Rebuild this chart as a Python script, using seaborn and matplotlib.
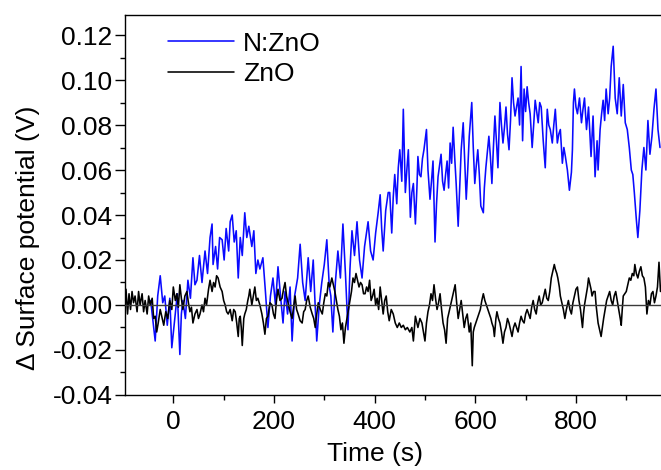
import numpy as np
import pandas as pd
import matplotlib
matplotlib.use("Agg")
import matplotlib.pyplot as plt
from matplotlib.ticker import MultipleLocator
import seaborn as sns

# values (time in s, potential change in V)
nzno_time = [-45, -40, -36, -31, -26, -21, -17, -12, -7, -3, 3, 8, 13, 16, 19, 24, 29, 34, 39, 43,
             47, 52, 57, 63, 68, 73, 77, 79, 84, 88, 92, 97, 101, 105, 110, 113, 117, 121, 125, 129,
             133, 137, 142, 146, 150, 156, 160, 164, 168, 172, 178, 183, 188, 193, 198, 203, 208, 213, 218, 222,
             227, 232, 236, 241, 247, 252, 257, 262, 268, 273, 278, 281, 285, 290, 295, 300, 305, 310, 313, 317,
             322, 327, 332, 337, 342, 347, 351, 355, 360, 365, 370, 375, 380, 387, 392, 397, 402, 407, 411, 414,
             417, 422, 427, 430, 434, 437, 440, 444, 447, 450, 454, 457, 461, 464, 467, 471, 474, 477, 481, 484,
             486, 489, 492, 495, 498, 503, 506, 510, 513, 516, 520, 523, 526, 532, 535, 538, 541, 544, 547, 550,
             553, 556, 559, 562, 566, 569, 572, 576, 579, 582, 585, 588, 593, 596, 599, 602, 605, 608, 611, 616,
             618, 621, 624, 627, 630, 633, 636, 639, 642, 645, 649, 652, 655, 658, 661, 664, 667, 670, 673, 676,
             679, 682, 685, 688, 691, 694, 697, 700, 703, 706, 709, 713, 716, 719, 722, 725, 728, 731, 735, 739,
             743, 746, 749, 753, 756, 759, 763, 766, 769, 773, 776, 779, 783, 787, 791, 793, 795, 797, 800, 803,
             807, 811, 814, 817, 821, 825, 830, 834, 838, 842, 844, 848, 851, 854, 857, 860, 864, 867, 870, 874,
             878, 882, 886, 890, 894, 898, 902, 906, 910, 913, 916, 920, 923, 927, 931, 935, 939, 943, 947, 951,
             955, 959, 963, 967]
nzno_value = [0.002, -0.008, -0.016, 0.004, 0.013, 0.001, 0.004, -0.009, 0.003, -0.019, -0.006, 0.005, -0.022, -0.004, 0.002, -0.006, 0.011, 0.003, 0.021, 0.009,
              0.011, 0.022, 0.010, 0.024, 0.014, 0.030, 0.036, 0.018, 0.026, 0.016, 0.030, 0.029, 0.020, 0.034, 0.024, 0.037, 0.040, 0.028, 0.033, 0.012,
              0.030, 0.022, 0.041, 0.030, 0.035, 0.026, 0.033, 0.014, 0.020, 0.016, 0.021, 0.006, -0.010, 0.004, 0.012, 0.000, 0.017, 0.004, -0.008, 0.006,
              -0.004, 0.008, -0.016, 0.004, 0.012, 0.027, 0.010, 0.002, 0.021, 0.006, 0.020, 0.004, -0.016, 0.000, 0.010, 0.018, 0.029, 0.008, 0.004, -0.012,
              0.010, 0.024, 0.012, 0.036, 0.014, -0.011, 0.016, 0.033, 0.022, 0.037, 0.020, 0.012, 0.026, 0.037, 0.024, 0.020, 0.032, 0.041, 0.049, 0.034,
              0.024, 0.042, 0.050, 0.050, 0.032, 0.048, 0.058, 0.045, 0.061, 0.069, 0.055, 0.087, 0.050, 0.060, 0.069, 0.039, 0.050, 0.054, 0.036, 0.052,
              0.066, 0.058, 0.057, 0.065, 0.069, 0.078, 0.060, 0.047, 0.055, 0.064, 0.028, 0.045, 0.057, 0.067, 0.055, 0.051, 0.058, 0.064, 0.052, 0.072,
              0.063, 0.079, 0.066, 0.054, 0.035, 0.052, 0.069, 0.081, 0.064, 0.047, 0.060, 0.075, 0.090, 0.070, 0.054, 0.062, 0.069, 0.058, 0.044, 0.041,
              0.052, 0.061, 0.068, 0.075, 0.066, 0.054, 0.070, 0.084, 0.073, 0.061, 0.090, 0.080, 0.072, 0.079, 0.088, 0.076, 0.069, 0.082, 0.101, 0.090,
              0.084, 0.088, 0.092, 0.080, 0.106, 0.073, 0.096, 0.086, 0.097, 0.090, 0.085, 0.070, 0.080, 0.091, 0.086, 0.081, 0.090, 0.088, 0.073, 0.061,
              0.087, 0.080, 0.078, 0.072, 0.080, 0.087, 0.072, 0.076, 0.078, 0.063, 0.070, 0.066, 0.060, 0.051, 0.059, 0.069, 0.090, 0.096, 0.088, 0.085,
              0.092, 0.081, 0.087, 0.092, 0.078, 0.088, 0.066, 0.084, 0.057, 0.073, 0.060, 0.078, 0.085, 0.091, 0.082, 0.096, 0.085, 0.092, 0.106, 0.115,
              0.092, 0.085, 0.101, 0.084, 0.098, 0.081, 0.078, 0.070, 0.060, 0.058, 0.050, 0.038, 0.030, 0.042, 0.060, 0.070, 0.060, 0.082, 0.067, 0.075,
              0.087, 0.096, 0.078, 0.070]

zno_time = [-94, -91, -88, -85, -82, -79, -76, -72, -69, -66, -62, -59, -56, -52, -49, -46, -42, -39, -36, -33,
            -30, -26, -22, -19, -15, -11, -7, -3, 0, 4, 7, 10, 13, 16, 19, 23, 27, 30, 33, 36,
            39, 43, 47, 50, 53, 57, 60, 63, 66, 70, 73, 77, 80, 83, 86, 89, 93, 97, 100, 103,
            106, 109, 113, 117, 120, 123, 126, 129, 131, 133, 135, 137, 140, 142, 145, 148, 150, 152, 156, 159,
            162, 165, 168, 172, 176, 179, 182, 185, 188, 192, 196, 199, 202, 205, 208, 212, 216, 219, 222, 225,
            228, 232, 236, 239, 242, 245, 248, 252, 256, 259, 262, 265, 268, 272, 276, 279, 282, 285, 288, 292,
            296, 299, 302, 305, 308, 311, 315, 318, 321, 324, 327, 330, 333, 336, 339, 342, 345, 348, 351, 354,
            357, 360, 363, 366, 369, 372, 375, 378, 381, 384, 387, 390, 393, 396, 399, 402, 405, 408, 411, 414,
            417, 420, 423, 426, 429, 433, 437, 441, 445, 449, 453, 457, 461, 465, 470, 474, 477, 481, 484, 486,
            490, 494, 497, 500, 503, 506, 509, 512, 515, 518, 521, 524, 527, 530, 533, 536, 539, 542, 545, 548,
            551, 554, 557, 560, 563, 566, 569, 572, 575, 578, 581, 584, 588, 591, 594, 596, 598, 601, 604, 607,
            610, 613, 616, 619, 622, 625, 628, 631, 633, 636, 638, 641, 643, 646, 649, 652, 655, 658, 661, 664,
            667, 670, 673, 676, 679, 682, 685, 688, 691, 694, 697, 700, 703, 706, 709, 712, 715, 718, 721, 724,
            727, 730, 733, 736, 739, 742, 745, 748, 751, 754, 757, 759, 762, 764, 767, 769, 772, 775, 778, 781,
            785, 788, 791, 794, 797, 800, 803, 806, 809, 811, 813, 815, 817, 820, 823, 825, 827, 830, 832, 835,
            838, 840, 842, 844, 846, 848, 850, 853, 855, 858, 861, 864, 867, 870, 873, 876, 879, 882, 885, 888,
            890, 892, 894, 897, 900, 903, 906, 909, 912, 915, 917, 920, 923, 926, 929, 932, 935, 938, 941, 944,
            947, 950, 953, 956, 959, 962, 965, 968]
zno_value = [0.007, -0.004, 0.005, -0.002, 0.006, 0.001, 0.004, -0.003, 0.006, 0.000, 0.005, -0.003, 0.002, -0.004, 0.004, 0.000, 0.003, -0.006, -0.005, -0.012,
             -0.008, -0.002, -0.006, -0.009, -0.003, -0.006, 0.002, -0.002, 0.008, 0.002, 0.005, -0.001, 0.009, 0.003, -0.002, 0.004, 0.006, 0.001, -0.003, -0.001,
             -0.008, -0.004, -0.002, -0.006, -0.004, 0.000, -0.003, 0.003, 0.000, 0.007, 0.011, 0.006, 0.010, 0.008, 0.013, 0.012, 0.008, 0.006, 0.002, 0.000,
             -0.003, -0.004, -0.002, -0.007, -0.002, -0.003, -0.008, -0.014, -0.006, -0.005, -0.010, -0.018, -0.006, -0.004, -0.002, 0.002, 0.004, 0.007, 0.000, 0.004,
             0.008, 0.002, 0.003, 0.000, -0.004, -0.008, -0.013, -0.006, -0.005, 0.001, 0.000, -0.004, -0.006, 0.002, 0.007, 0.002, 0.003, 0.007, 0.010, 0.004,
             0.001, -0.003, -0.006, -0.001, 0.004, -0.002, -0.004, -0.007, -0.008, -0.003, -0.002, 0.002, 0.004, -0.001, -0.004, -0.006, -0.010, -0.004, 0.001, -0.002,
             -0.004, 0.001, 0.005, 0.004, 0.010, 0.008, 0.012, 0.009, 0.006, 0.002, -0.002, -0.005, -0.011, -0.008, -0.017, -0.010, -0.006, -0.002, 0.002, 0.006,
             0.012, 0.010, 0.014, 0.011, 0.008, 0.010, 0.009, 0.005, 0.005, 0.008, 0.006, 0.011, 0.002, 0.004, 0.007, 0.000, 0.003, -0.002, 0.008, 0.002,
             -0.004, 0.002, 0.004, -0.003, -0.007, -0.002, -0.004, -0.008, -0.010, -0.008, -0.010, -0.009, -0.011, -0.010, -0.012, -0.010, -0.016, -0.005, -0.008, -0.010,
             -0.006, -0.008, -0.012, -0.016, -0.008, -0.003, 0.000, 0.005, 0.002, 0.009, 0.003, -0.002, 0.001, 0.005, -0.002, -0.008, -0.011, -0.017, -0.006, -0.003,
             0.000, 0.003, 0.006, 0.009, 0.001, -0.006, -0.002, 0.002, -0.004, -0.010, -0.006, -0.004, -0.012, -0.008, -0.027, -0.012, -0.010, -0.008, -0.006, -0.004,
             -0.002, 0.002, 0.005, 0.002, 0.000, -0.002, -0.004, -0.006, -0.008, -0.010, -0.014, -0.006, -0.003, -0.006, -0.008, -0.012, -0.017, -0.012, -0.010, -0.006,
             -0.008, -0.011, -0.014, -0.010, -0.008, -0.010, -0.012, -0.008, -0.005, -0.007, -0.008, -0.004, -0.002, -0.004, -0.006, -0.001, 0.002, -0.002, -0.004, 0.001,
             0.004, 0.000, 0.001, 0.004, 0.007, 0.003, 0.002, 0.006, 0.012, 0.015, 0.018, 0.016, 0.014, 0.012, 0.008, 0.004, 0.001, -0.002, -0.006, -0.002,
             0.002, -0.002, -0.004, 0.001, 0.004, 0.007, 0.008, 0.002, -0.002, -0.006, -0.010, -0.004, 0.000, 0.004, 0.008, 0.012, 0.010, 0.007, 0.004, 0.006,
             0.006, 0.000, -0.004, -0.008, -0.010, -0.012, -0.014, -0.009, -0.006, -0.002, 0.002, 0.004, 0.006, 0.002, 0.000, 0.004, 0.006, 0.002, -0.002, -0.006,
             -0.009, -0.002, 0.004, 0.005, 0.006, 0.009, 0.012, 0.011, 0.014, 0.013, 0.018, 0.014, 0.012, 0.015, 0.017, 0.013, 0.012, 0.008, -0.004, 0.002,
             0.000, 0.005, 0.006, 0.001, 0.004, 0.008, 0.019, 0.006]

labels = ["N:ZnO", "ZnO"]
colors = {"N:ZnO": "#0a0aff", "ZnO": "#000000"}

df = pd.concat([
    pd.DataFrame({"time": nzno_time, "value": nzno_value, "sample": labels[0]}),
    pd.DataFrame({"time": zno_time, "value": zno_value, "sample": labels[1]}),
], ignore_index=True)

sns.set_style("ticks")
plt.rcParams['font.family'] = ['Liberation Sans', 'DejaVu Sans']
plt.rcParams['text.color'] = 'black'
plt.rcParams['axes.labelcolor'] = 'black'
plt.rcParams['xtick.color'] = 'black'
plt.rcParams['ytick.color'] = 'black'

fig = plt.figure(figsize=(6.61, 4.70), dpi=100)
ax = fig.add_axes([0.1891, 0.1596, 0.8109, 0.8085])

sns.lineplot(data=df, x="time", y="value", hue="sample", hue_order=labels,
             palette=colors, estimator=None, sort=False, lw=1.15, ax=ax)
ax.axhline(0, color="#3a3a3a", lw=1.0, zorder=5)

ax.set_xlim(-96, 969)
ax.set_ylim(-0.04, 0.1289)
ax.xaxis.set_major_locator(MultipleLocator(200))
ax.xaxis.set_minor_locator(MultipleLocator(100))
ax.yaxis.set_major_locator(MultipleLocator(0.02))
ax.yaxis.set_minor_locator(MultipleLocator(0.01))
ax.yaxis.set_major_formatter(plt.FuncFormatter(lambda v, p: f"{v:.2f}".replace("-0.00", "0.00")))

ax.tick_params(axis="both", which="both", direction="out", labelsize=19,
               color="black", labelcolor="black", width=1.0)
ax.tick_params(axis="y", which="major", length=7, pad=2)
ax.tick_params(axis="y", which="minor", length=3.5)
ax.tick_params(axis="x", which="major", length=6, pad=5)
ax.tick_params(axis="x", which="minor", length=3.5)

for side in ["left", "bottom", "top"]:
    ax.spines[side].set_color("black")
    ax.spines[side].set_linewidth(1.0)
ax.spines["right"].set_visible(False)

ax.set_xlabel("Time (s)", fontsize=19, color="black")
ax.set_ylabel("Δ Surface potential (V)", fontsize=19, color="black")
ax.xaxis.set_label_coords(0.466, -0.124)
ax.yaxis.set_label_coords(-0.1586, 0.413)

leg = ax.legend(frameon=False, loc="upper left", bbox_to_anchor=(0.06, 0.984), borderaxespad=0,
                fontsize=19, handlelength=2.5, handletextpad=0.35, labelspacing=0.25)
for t in leg.get_texts():
    t.set_color("black")

fig.savefig("out.png", dpi=100)
